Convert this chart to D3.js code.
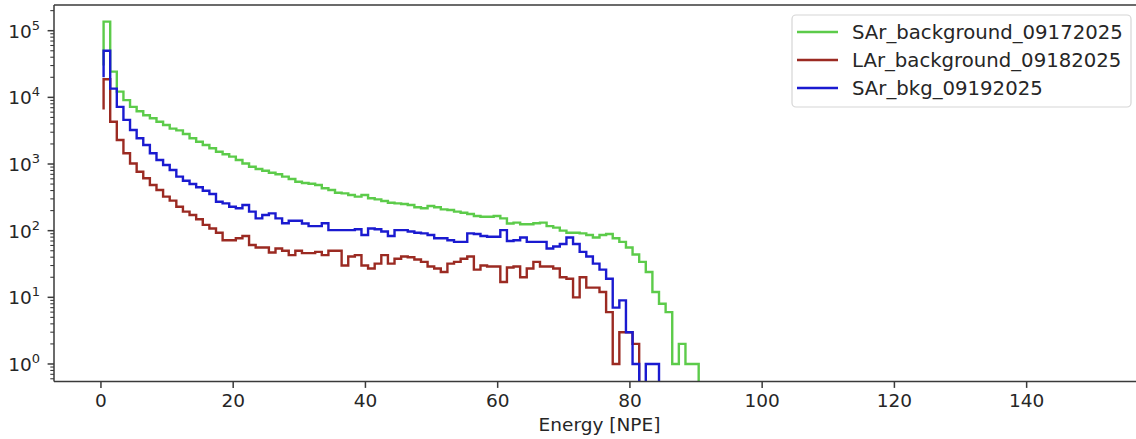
<!DOCTYPE html>
<html>
<head>
<meta charset="utf-8">
<script src="https://cdn.jsdelivr.net/npm/d3@7.9.0/dist/d3.min.js"></script>
<style>
  body { margin: 0; background: #fff; }
  text { font-family: "DejaVu Sans", sans-serif; fill: #262626; }
</style>
</head>
<body>
<div id="chart"></div>
<script>
// histogram binning (1 NPE wide bins)
const binStart = 0.4;
const binWidth = 1;

const seriesNames = ["SAr_background_09172025", "LAr_background_09182025", "SAr_bkg_09192025"];
const seriesColors = ["#5ccb4a", "#9b2a22", "#1a1ad0"];

// value the step line starts from at the first edge
const startCounts = [30000, 6600, 20000];

const greenCounts = [
  137000, 24300, 12200, 9100, 7200, 6200, 5400, 4850, 4300, 3850,
  3400, 3200, 2820, 2430, 2160, 1930, 1720, 1530, 1400, 1290,
  1150, 1020, 912, 842, 794, 741, 702, 646, 596, 543,
  520, 505, 484, 432, 407, 371, 363, 343, 324, 343,
  306, 295, 279, 263, 257, 251, 243, 224, 217, 235,
  224, 209, 204, 193, 186, 178, 166, 162, 162, 166,
  153, 128, 132, 125, 125, 129, 132, 117, 111, 100,
  93, 93, 91, 86, 79, 86, 89, 77, 68, 56,
  44, 34, 24, 12, 8, 6, 1, 2, 1, 1,
  0
];

const brownCounts = [
  18700, 4300, 2290, 1450, 1020, 767, 610, 484, 407, 324,
  282, 229, 193, 172, 148, 122, 108, 93, 72, 72,
  77, 83, 61, 56, 56, 47, 54, 50, 43, 50,
  46, 46, 48, 43, 50, 50, 30, 41, 43, 30,
  27, 32, 43, 32, 38, 41, 40, 37, 34, 29,
  27, 24, 32, 34, 38, 41, 26, 30, 29, 29,
  17, 28, 29, 20, 27, 34, 29, 29, 27, 20,
  19, 10, 20, 14, 14, 12, 6, 1, 3, 3,
  2, 0
];

const blueCounts = [
  50000, 13500, 7200, 4600, 3240, 2430, 1930, 1450, 1150, 966,
  813, 646, 562, 501, 447, 398, 355, 272, 257, 229,
  217, 243, 193, 153, 172, 182, 153, 129, 141, 141,
  128, 117, 117, 129, 102, 102, 102, 102, 105, 86,
  108, 105, 97, 83, 102, 102, 97, 93, 91, 86,
  77, 77, 72, 68, 68, 91, 89, 83, 81, 81,
  102, 70, 72, 79, 68, 68, 68, 54, 58, 63,
  79, 63, 48, 41, 32, 26, 19, 7, 9, 3,
  1, 0, 1, 1, 0
];

const allCounts = [greenCounts, brownCounts, blueCounts];

const xTicks = [0, 20, 40, 60, 80, 100, 120, 140];
const yTickExps = [0, 1, 2, 3, 4, 5];

const width = 1136;
const height = 439;
const plot = { left: 54, right: 1145, top: 5, bottom: 381.5 };

const svg = d3.select("#chart").append("svg")
  .attr("width", width)
  .attr("height", height);

const x = d3.scaleLinear()
  .domain([-7.1, 157.9])
  .range([plot.left, plot.right]);

const y = d3.scaleLog()
  .domain([0.546, 2.43e5])
  .range([plot.bottom, plot.top]);

svg.append("clipPath")
  .attr("id", "plot-clip")
  .append("rect")
  .attr("x", plot.left)
  .attr("y", plot.top)
  .attr("width", plot.right - plot.left)
  .attr("height", plot.bottom - plot.top);

// zero counts fall off the bottom of a log axis
const yPos = v => v > 0 ? y(v) : plot.bottom + 30;

const line = d3.line()
  .x(d => x(d.edge))
  .y(d => yPos(d.value))
  .curve(d3.curveStepBefore);

const lines = svg.append("g").attr("clip-path", "url(#plot-clip)");

allCounts.forEach((counts, s) => {
  const pts = [{ edge: binStart, value: startCounts[s] }]
    .concat(counts.map((c, i) => ({ edge: binStart + (i + 1) * binWidth, value: c })));
  lines.append("path")
    .datum(pts)
    .attr("fill", "none")
    .attr("stroke", seriesColors[s])
    .attr("stroke-width", 2.4)
    .attr("d", line);
});

// spines
const spineColor = "#3a3a3a";
svg.append("line")
  .attr("x1", plot.left).attr("x2", plot.right)
  .attr("y1", plot.top).attr("y2", plot.top)
  .attr("stroke", spineColor).attr("stroke-width", 1.5);
svg.append("line")
  .attr("x1", plot.left).attr("x2", plot.right)
  .attr("y1", plot.bottom).attr("y2", plot.bottom)
  .attr("stroke", spineColor).attr("stroke-width", 1.5);
svg.append("line")
  .attr("x1", plot.left).attr("x2", plot.left)
  .attr("y1", plot.top).attr("y2", plot.bottom)
  .attr("stroke", spineColor).attr("stroke-width", 1.5);

// x axis
const xAxis = svg.append("g");
xTicks.forEach(t => {
  xAxis.append("line")
    .attr("x1", x(t)).attr("x2", x(t))
    .attr("y1", plot.bottom).attr("y2", plot.bottom + 6.4)
    .attr("stroke", spineColor).attr("stroke-width", 1.5);
  xAxis.append("text")
    .attr("x", x(t))
    .attr("y", 407)
    .attr("text-anchor", "middle")
    .style("font-size", "18.5px")
    .text(t);
});

svg.append("text")
  .attr("x", (plot.left + plot.right) / 2)
  .attr("y", 431)
  .attr("text-anchor", "middle")
  .style("font-size", "18.5px")
  .text("Energy [NPE]");

// y axis (log, major + minor ticks)
const yAxis = svg.append("g");
const [yLo, yHi] = y.domain();
for (let e = -1; e <= 5; e++) {
  for (let m = 2; m <= 9; m++) {
    const v = m * Math.pow(10, e);
    if (v < yLo || v > yHi) continue;
    yAxis.append("line")
      .attr("x1", plot.left - 3.7).attr("x2", plot.left)
      .attr("y1", y(v)).attr("y2", y(v))
      .attr("stroke", spineColor).attr("stroke-width", 1.1);
  }
}
yTickExps.forEach(e => {
  const v = Math.pow(10, e);
  yAxis.append("line")
    .attr("x1", plot.left - 6.4).attr("x2", plot.left)
    .attr("y1", y(v)).attr("y2", y(v))
    .attr("stroke", spineColor).attr("stroke-width", 1.5);
  const label = yAxis.append("text")
    .attr("x", 40)
    .attr("y", y(v) + 7)
    .attr("text-anchor", "end")
    .style("font-size", "18.5px");
  label.append("tspan").text("10");
  label.append("tspan")
    .attr("dy", -8)
    .style("font-size", "13px")
    .text(e);
});

// legend
const legend = svg.append("g");
legend.append("rect")
  .attr("x", 792).attr("y", 15)
  .attr("width", 339).attr("height", 92)
  .attr("rx", 4)
  .attr("fill", "#fff")
  .attr("fill-opacity", 0.8)
  .attr("stroke", "#d6d6d6")
  .attr("stroke-width", 1.2);

seriesNames.forEach((name, i) => {
  const ly = 32 + i * 28;
  legend.append("line")
    .attr("x1", 797).attr("x2", 838)
    .attr("y1", ly).attr("y2", ly)
    .attr("stroke", seriesColors[i])
    .attr("stroke-width", 2.4);
  legend.append("text")
    .attr("x", 852)
    .attr("y", ly)
    .attr("dominant-baseline", "central")
    .style("font-size", "19.7px")
    .text(name);
});
</script>
</body>
</html>
